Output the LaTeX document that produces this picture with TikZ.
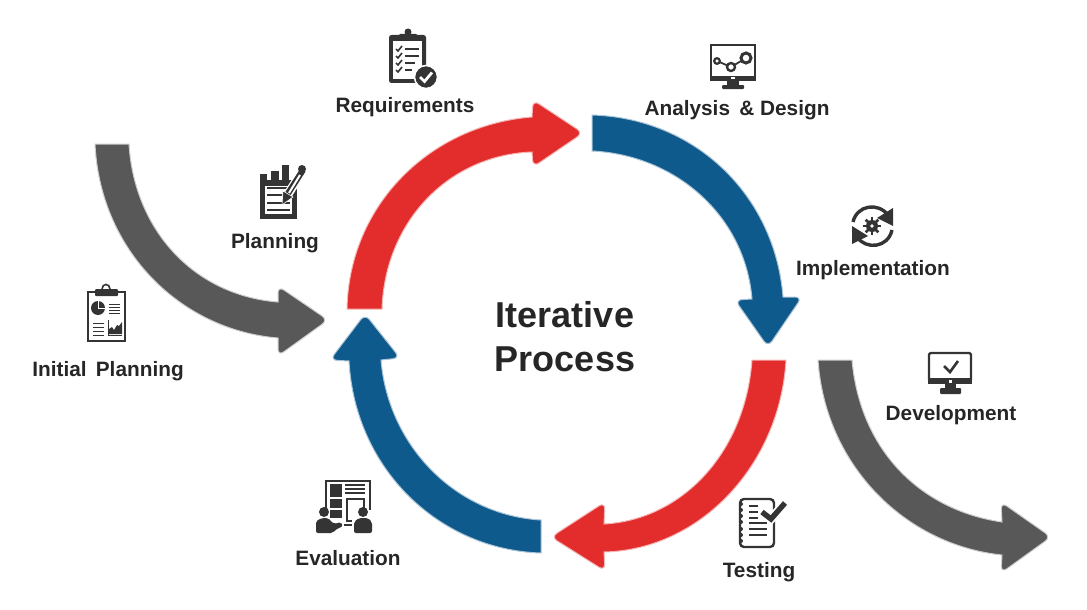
\documentclass[tikz,border=0pt]{standalone}
\usepackage{fontspec}
\setmainfont{Liberation Sans}
\definecolor{ArrowRed}{RGB}{227, 44, 44}
\definecolor{ArrowBlue}{RGB}{15, 90, 140}
\definecolor{ArrowGray}{RGB}{88, 88, 88}
\definecolor{IconDark}{RGB}{52, 52, 52}
\definecolor{LabelDark}{RGB}{38, 38, 38}
\usetikzlibrary{arrows.meta, positioning}

\begin{document}
\begin{tikzpicture}[
    x=1pt, y=-1pt,
    label/.style={font=\fontsize{20.8}{24}\selectfont\bfseries, text=LabelDark, inner sep=0pt},
    title/.style={font=\fontsize{36}{44.5}\selectfont\bfseries, text=LabelDark, align=center, inner sep=0pt},
    redarrow/.style={fill=ArrowRed, draw=ArrowRed!35, line width=1pt},
    bluearrow/.style={fill=ArrowBlue, draw=ArrowBlue!35, line width=1pt},
    grayarrow/.style={fill=ArrowGray, draw=ArrowGray!30, line width=1pt},
    icon/.style={fill=IconDark},
    iconline/.style={draw=IconDark, line width=2pt},
    thinline/.style={draw=IconDark, line width=1.2pt}
]
\useasboundingbox (0,0) rectangle (1087,610);

% arrows
\fill[redarrow] (347,309) .. controls (349,205) and (430,125) .. (532,117)
    [rounded corners=7pt] -- (533,100) -- (583,133) -- (533,167) [sharp corners]
    -- (532,152) .. controls (450,155) and (385,220) .. (382,309) -- cycle;
\fill[bluearrow] (592,115) .. controls (695,118) and (775,195) .. (783,297)
    [rounded corners=7pt] -- (802,297) -- (768,347) -- (735,300) [sharp corners]
    -- (752,299) .. controls (745,215) and (675,155) .. (592,151) -- cycle;
\fill[redarrow] (786,360) .. controls (780,465) and (700,550) .. (604,552)
    [rounded corners=7pt] -- (605,571) -- (551,537) -- (605,502) [sharp corners]
    -- (604,524) .. controls (680,520) and (745,455) .. (752,360) -- cycle;
\fill[bluearrow] (541,553) .. controls (440,550) and (355,470) .. (349,361)
    [rounded corners=7pt] -- (330,360) -- (365,314) -- (400,358) [sharp corners]
    -- (381,360) .. controls (388,445) and (455,515) .. (541,520) -- cycle;
\fill[grayarrow] (95,144) .. controls (100,250) and (180,330) .. (278,338)
    [rounded corners=7pt] -- (278,356) -- (328,320) -- (278,286) [sharp corners]
    -- (278,302) .. controls (192,295) and (134,228) .. (129,144) -- cycle;
\fill[grayarrow] (818,360) .. controls (825,465) and (905,545) .. (1002,555)
    [rounded corners=7pt] -- (1001,573) -- (1051,537) -- (1001,502) [sharp corners]
    -- (1002,522) .. controls (920,510) and (860,450) .. (852,360) -- cycle;

% texts
\node[title] (center) at (565,336.5) {Iterative\\Process};
\node[label] (requirements) at (405,107) {Requirements};
\node[label] (analysis) at (737,110) {Analysis \,\&\ Design};
\node[label] (implementation) at (873,270) {Implementation};
\node[label] (development) at (951,415) {Development};
\node[label] (testing) at (759,572) {Testing};
\node[label] (evaluation) at (348,558.5) {Evaluation};
\node[label] (planning) at (275,243) {Planning};
\node[label] (initial) at (108,371) {Initial \,Planning};

% requirements icon
\fill[icon, rounded corners=2.5pt] (389,35) rectangle (426,83);
\fill[white] (393,41) rectangle (422,79);
\fill[icon, rounded corners=1pt] (399,34) rectangle (417,41);
\fill[icon] (408,32) circle[radius=3.5pt];
\foreach \yy/\xe in {49/419, 56/419, 63/415, 70/412} {
    \draw[IconDark, line width=2pt] (405,\yy) -- (\xe,\yy);
    \draw[IconDark, line width=1.6pt] (396,\yy) -- (398,\yy+2) -- (402,\yy-3);
}
\fill[icon, draw=white, line width=1.5pt] (426,77) circle[radius=11.5pt];
\draw[white, line width=2.8pt] (420,77) -- (424.5,81.5) -- (432,72.5);

% analysis icon
\draw[iconline] (711,45) rectangle (755,79);
\fill[icon] (710,76) rectangle (756,81);
\fill[icon] (727,81) rectangle (739,86);
\fill[white] (731,77.5) rectangle (735,79.5);
\fill[icon, rounded corners=1pt] (722,85) rectangle (744,89);
\draw[IconDark, line width=1.8pt] (717,61) -- (731,67) -- (746,58);
\draw[iconline, line width=2.2pt, fill=white] (717,61) circle[radius=2.8pt];
\draw[iconline, line width=2.4pt, fill=white] (731,67) circle[radius=4pt];
\draw[iconline, line width=3pt, fill=white] (746,58) circle[radius=5pt];

% implementation icon
\draw[IconDark, line width=3.4pt] (853,222) .. controls (857,205) and (878,202) .. (888,215);
\draw[IconDark, line width=3.4pt] (892,230) .. controls (888,248) and (866,250) .. (857,237);
\fill[icon] (893,208) -- (893,226) -- (877,218) -- cycle;
\fill[icon] (852,226) -- (852,244) -- (868,236) -- cycle;
\fill[icon] (872,226) circle[radius=6pt];
\foreach \aa in {0,45,...,315} {
    \draw[IconDark, line width=2.6pt] (872,226) -- ++(\aa:9pt);
}
\fill[white] (872,226) circle[radius=1.8pt];

% planning icon
\fill[icon] (260,174) rectangle (267,182);
\fill[icon] (271,171) rectangle (279,182);
\fill[icon] (282,165) rectangle (289,182);
\fill[icon] (260,180) rectangle (297,219);
\fill[white] (265,186) rectangle (292,214);
\foreach \yy in {188,195,203,210} {
    \draw[IconDark, line width=2.6pt] (267,\yy) -- (290,\yy);
}
\draw[white, line width=9pt] (285,199) -- (303,170);
\draw[IconDark, line width=6pt] (287,195) -- (303,170);
\draw[white, line width=2pt] (289,193) -- (300,175);
\fill[icon, draw=white, line width=0.6pt] (282,205) -- (283,191) -- (293,197) -- cycle;
\fill[icon] (302,169) circle[radius=4pt];

% initial planning icon
\draw[iconline] (95,292) -- (88,292) -- (88,341) -- (125,341) -- (125,292) -- (118,292);
\fill[icon, rounded corners=1pt] (95,289) rectangle (118,296);
\draw[iconline, line width=1.6pt] (102,289) .. controls (102,283) and (110,283) .. (110,289);
\fill[icon] (98,308) circle[radius=7pt];
\draw[white, line width=0.7pt] (98,308) -- (98,301);
\draw[white, line width=0.7pt] (98,308) -- (105,308);
\foreach \yy in {304,307,310,313} {
    \draw[IconDark, line width=1pt] (109,\yy) -- (120,\yy);
}
\foreach \yy in {323,327,331,335} {
    \draw[IconDark, line width=1pt] (93,\yy) -- (104,\yy);
}
\draw[IconDark, line width=1pt] (108,320) -- (108,335) -- (122,335);
\fill[icon] (109,334) -- (109,329) -- (112,327) -- (114,330) -- (117,325) -- (119,326) -- (122,322) -- (122,334) -- cycle;

% evaluation icon
\draw[iconline, line width=2.4pt] (326,511) -- (326,481) -- (370,481) -- (370,521);
\fill[icon] (330,484) rectangle (342,497);
\fill[icon] (330,499) rectangle (342,508);
\fill[icon] (330,510) rectangle (342,518);
\foreach \yy in {485,489,493} {
    \draw[IconDark, line width=2pt] (345,\yy) -- (365,\yy);
}
\draw[iconline, line width=2.4pt] (347,499) rectangle (364,521);
\fill[white] (352,510) rectangle (375,534);
\fill[icon] (324,512) circle[radius=5pt];
\fill[icon] (363,512) circle[radius=5pt];
\fill[icon, rounded corners=2pt] (316,533) -- (316,521) -- (322,518) -- (328,518) -- (334,524) -- (341,522)
    -- (343,526) -- (335,530) -- (333,533) -- cycle;
\fill[icon, rounded corners=2pt] (354,533) -- (354,522) -- (359,518) -- (368,518) -- (372,522) -- (372,533) -- cycle;
\draw[IconDark, line width=1.4pt] (344,525) -- (352,525);

% testing icon
\draw[iconline, line width=2.4pt, rounded corners=4pt] (740,499) rectangle (774,547);
\foreach \yy in {504,510,516,522,529,535,541} {
    \fill[icon] (741,\yy) circle[radius=2pt];
}
\foreach \yy/\xe in {506/758, 512/758, 518/758, 523/767, 529/767, 535/767} {
    \draw[IconDark, line width=1.7pt] (749,\yy) -- (\xe,\yy);
}
\draw[white, line width=9pt] (763,512) -- (771,519) -- (785,503);
\draw[IconDark, line width=5.4pt] (762,512) -- (771,519) -- (785,503);

% development icon
\draw[iconline, line width=2.4pt, rounded corners=1.5pt] (929,353) rectangle (971,381);
\fill[icon] (928,378) rectangle (972,384);
\fill[white] (948.5,379.5) rectangle (951.5,382.5);
\fill[icon] (945,384) rectangle (956,389);
\fill[icon, rounded corners=1pt] (940,388) rectangle (961,394);
\draw[IconDark, line width=2.6pt] (944,366) -- (950,372) -- (958,361);
\end{tikzpicture}
\end{document}
